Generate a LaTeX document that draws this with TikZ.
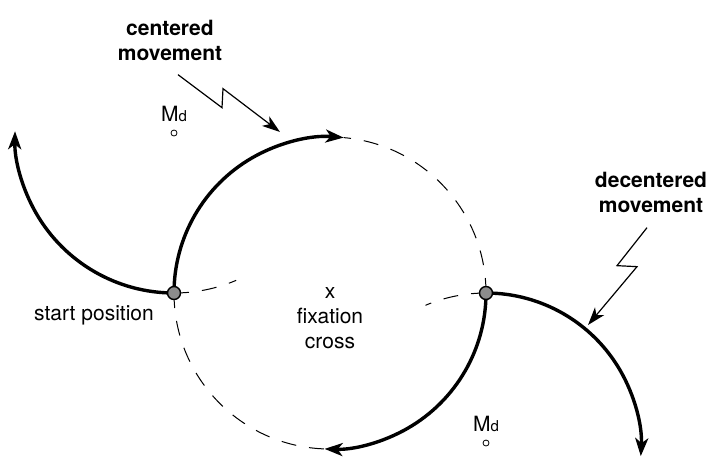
\documentclass[tikz,border=0pt]{standalone}
\usepackage{fontspec}
\setmainfont{TeX Gyre Heros}
\usetikzlibrary{arrows.meta,positioning}
\newcommand{\Md}{M{\fontsize{7.5}{7.5}\selectfont d}}

\begin{document}
\begin{tikzpicture}[x=0.5pt, y=0.5pt,
    motionarc/.style={line width=1.7pt, -{Stealth[length=9pt,width=6.5pt,inset=2.5pt]}},
    guide/.style={line width=0.5pt, dash pattern=on 7.5pt off 6.5pt},
    bolt/.style={line width=0.6pt, -{Stealth[length=9pt,width=6pt,inset=2.5pt]}},
    posdot/.style={circle, draw, line width=0.7pt, fill=black!45, minimum size=6.5pt, inner sep=0pt},
    mdmark/.style={circle, draw, line width=0.4pt, minimum size=3pt, inner sep=0pt},
    lbl/.style={font=\fontsize{10.5}{12.5}\selectfont, inner sep=0pt, align=center},
    title/.style={lbl, font=\fontsize{10.5}{12.5}\selectfont\bfseries}]
    \useasboundingbox (0,0) rectangle (711,-456);

    % 起点, 转折点, 注视点
    \coordinate (S) at (174,-293);
    \coordinate (R) at (486,-293);
    \coordinate (C) at (330,-293);
    \coordinate (tipA) at (280,-132);
    \coordinate (tipB) at (588,-325);

    % 虚线部分
    \draw[guide] (R) arc[start angle=0, end angle=85, radius=156];
    \draw[guide] (S) arc[start angle=180, end angle=268, radius=156];
    \draw[guide] (S) arc[start angle=270, end angle=293, radius=159];
    \draw[guide] (R) arc[start angle=90, end angle=113, radius=155];

    % 运动轨迹
    \draw[motionarc] (S) arc[start angle=180, end angle=85, radius=156];
    \draw[motionarc] (R) arc[start angle=0, end angle=-92, radius=156];
    \draw[motionarc] (S) arc[start angle=270, end angle=179, radius=159];
    \draw[motionarc] (R) arc[start angle=90, end angle=-3, radius=155];

    \node[posdot] (start) at (S) {};
    \node[posdot] (turn) at (R) {};

    % 旋转中心 Md
    \node[mdmark] (mdA) at (174,-133) {};
    \node[lbl, above=3.5pt of mdA] (mdAlbl) {\Md};
    \node[mdmark] (mdB) at (486,-443) {};
    \node[lbl, above=3.5pt of mdB] (mdBlbl) {\Md};

    % 标签
    \node[lbl, anchor=base] (startlbl) at (94,-320) {start position};
    \node[lbl] (fix) at (C) {x};
    \node[lbl, below=4.5pt of fix] (fixlbl) {fixation\\cross};
    \node[title] (cent) at (170,-40) {centered\\movement};
    \node[title] (decent) at (651,-192) {decentered\\movement};

    % 闪电箭头
    \draw[bolt] (cent.south) ++(8,-14) -- ++(44,-33) -- ++(1,19) -- (tipA);
    \draw[bolt] (decent.south) ++(-4,-15) -- ++(-30,-38) -- ++(20,-1) -- (tipB);
\end{tikzpicture}
\end{document}
